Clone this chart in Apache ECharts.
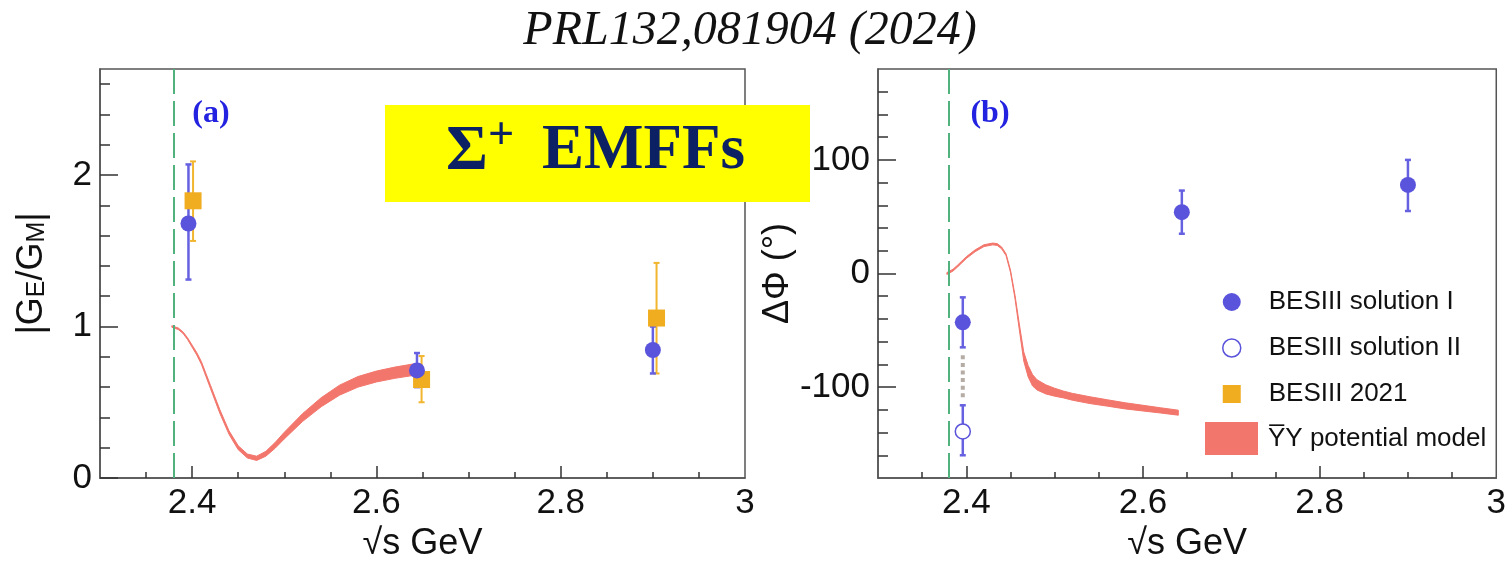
<!DOCTYPE html>
<html><head><meta charset="utf-8">
<script src="https://cdn.jsdelivr.net/npm/echarts@6/dist/echarts.min.js"></script>
<style>html,body{margin:0;padding:0;background:#fff}#c{width:1509px;height:570px}</style>
</head><body><div id="c"></div>
<script>
// ---------------- data ----------------
const xTickLabels = [2.4, 2.6, 2.8, 3];
const xMajorTicks = [2.4, 2.6, 2.8];
const xMinorTicks = [2.35, 2.45, 2.5, 2.55, 2.65, 2.7, 2.75, 2.85, 2.9, 2.95];
const yTickLabelsA = [0, 1, 2];
const yMinorTicksA = [0.2, 0.4, 0.6, 0.8, 1.2, 1.4, 1.6, 1.8, 2.2, 2.4, 2.6];
const yTickLabelsB = [-100, 0, 100];
const yMinorTicksB = [-160, -140, -120, -80, -60, -40, -20, 20, 40, 60, 80, 120, 140, 160];
const thresholdX = 2.3787;

// panel (a): |GE/GM|
const energySol = [2.396, 2.644, 2.900];
const ratioSol = [1.68, 0.71, 0.845];
const ratioSolLow = [1.31, 0.60, 0.69];
const ratioSolHigh = [2.07, 0.825, 1.00];

const energy2021 = [2.401, 2.649, 2.904];
const ratio2021 = [1.83, 0.65, 1.056];
const ratio2021Low = [1.565, 0.50, 0.69];
const ratio2021High = [2.09, 0.805, 1.42];

// panel (b): ΔΦ
const phaseSolI = [-43, 54, 78];
const phaseSolILow = [-65, 35, 55];
const phaseSolIHigh = [-21, 73, 100];
const energySolII = [2.396];
const phaseSolII = [-139];
const phaseSolIILow = [-160];
const phaseSolIIHigh = [-116];
const connectorPhase = [-72, -110];

// YbarY potential model bands
const modelEnergyA = [2.378, 2.385, 2.39, 2.395, 2.40, 2.405, 2.41, 2.415, 2.42, 2.43, 2.44, 2.45, 2.46, 2.47, 2.48, 2.49, 2.50, 2.52, 2.54, 2.56, 2.58, 2.60, 2.62, 2.64];
const modelRatioUpper = [1.005, 0.99, 0.965, 0.926, 0.877, 0.828, 0.769, 0.69, 0.611, 0.452, 0.312, 0.213, 0.158, 0.144, 0.176, 0.234, 0.302, 0.426, 0.53, 0.613, 0.67, 0.706, 0.732, 0.753];
const modelRatioLower = [0.995, 0.98, 0.955, 0.914, 0.863, 0.812, 0.751, 0.67, 0.589, 0.428, 0.288, 0.187, 0.132, 0.116, 0.144, 0.196, 0.258, 0.374, 0.47, 0.547, 0.60, 0.634, 0.658, 0.677];

const modelEnergyB = [2.378, 2.385, 2.39, 2.40, 2.41, 2.42, 2.43, 2.435, 2.44, 2.445, 2.45, 2.455, 2.46, 2.465, 2.47, 2.475, 2.48, 2.49, 2.50, 2.51, 2.52, 2.54, 2.56, 2.58, 2.60, 2.62, 2.64];
const modelPhaseUpper = [0.8, 3.8, 7.3, 14.8, 20.8, 25.3, 26.8, 26.3, 23.3, 17.3, 3, -18.5, -44.5, -69, -81, -89, -93.5, -98, -101, -103.5, -105.5, -108.5, -111.2, -113.8, -116, -118.2, -120.3];
const modelPhaseLower = [-0.8, 2.2, 5.7, 13.2, 19.2, 23.7, 25.2, 24.7, 21.7, 15.7, 1, -21.5, -49.5, -77, -91, -99, -102.5, -106, -108, -109.5, -111.5, -114.5, -116.8, -119.2, -121, -122.8, -124.7];

// ---------------- style ----------------
const C = {
  blue: '#5a53db', blueErr: '#6661e0', orange: '#efad1f', orangeErr: '#f1b52e',
  band: '#f3766c', green: '#52b27e', frame: '#555', tick: '#333', text: '#111',
  dotted: '#b5ada5', panelLabel: '#2222e0', navy: '#0c2064', yellow: '#ffff00'
};
const SANS = '"Liberation Sans", Arial, Helvetica, sans-serif';
const SERIF = '"Liberation Serif", "Times New Roman", serif';
const bandName = 'Y\u0305Y potential model';

function fmt(v) { return String(Math.round(v * 10) / 10); }

function xAxes(grid, name) {
  return [
    {
      gridIndex: grid, type: 'value', min: 2.3, max: 3.0, position: 'bottom',
      axisLine: { show: true, onZero: false, lineStyle: { color: C.frame, width: 1.5 } },
      axisTick: { show: true, inside: true, length: 12, customValues: xMajorTicks, lineStyle: { color: C.tick, width: 1.5 } },
      axisLabel: { show: true, customValues: xTickLabels, formatter: fmt, margin: 8, fontSize: 35, color: C.text, fontFamily: SANS },
      splitLine: { show: false },
      name: name, nameLocation: 'middle', nameGap: 47,
      nameTextStyle: { fontSize: 36, color: C.text, fontFamily: SANS }
    },
    {
      gridIndex: grid, type: 'value', min: 2.3, max: 3.0, position: 'bottom',
      axisLine: { show: false, onZero: false },
      axisTick: { show: true, inside: true, length: 6, customValues: xMinorTicks, lineStyle: { color: C.tick, width: 1.5 } },
      axisLabel: { show: false }, splitLine: { show: false }
    }
  ];
}
function yAxes(grid, min, max, labels, minor, name, nameGap, rich) {
  return [
    {
      gridIndex: grid, type: 'value', min: min, max: max, position: 'left',
      axisLine: { show: true, onZero: false, lineStyle: { color: C.frame, width: 1.5 } },
      axisTick: { show: true, inside: true, length: 18, customValues: labels, lineStyle: { color: C.tick, width: 1.5 } },
      axisLabel: { show: true, customValues: labels, margin: 8, fontSize: 35, color: C.text, fontFamily: SANS },
      splitLine: { show: false },
      name: name, nameLocation: 'middle', nameGap: nameGap, nameRotate: 90,
      nameTextStyle: { fontSize: 36, color: C.text, fontFamily: SANS, rich: rich }
    },
    {
      gridIndex: grid, type: 'value', min: min, max: max, position: 'left',
      axisLine: { show: false, onZero: false },
      axisTick: { show: true, inside: true, length: 10, customValues: minor, lineStyle: { color: C.tick, width: 1.5 } },
      axisLabel: { show: false }, splitLine: { show: false }
    }
  ];
}

function bandSeries(xi, yi, xs, lo, hi) {
  return {
    type: 'custom', name: bandName, xAxisIndex: xi, yAxisIndex: yi, silent: true,
    itemStyle: { color: C.band },
    data: xs.map((x, i) => [x, lo[i], hi[i]]),
    encode: { x: 0, y: [1, 2] },
    renderItem: function (params, api) {
      if (params.dataIndex !== 0) return null;
      const pts = [];
      for (let i = 0; i < xs.length; i++) pts.push(api.coord([xs[i], hi[i]]));
      for (let i = xs.length - 1; i >= 0; i--) pts.push(api.coord([xs[i], lo[i]]));
      return { type: 'polygon', shape: { points: pts, smooth: 0 }, style: { fill: C.band, stroke: C.band, lineWidth: 1 } };
    },
    z: 2
  };
}
function errSeries(xi, yi, xs, lo, hi, color, w) {
  return {
    type: 'custom', xAxisIndex: xi, yAxisIndex: yi, silent: true,
    data: xs.map((x, i) => [x, lo[i], hi[i]]),
    encode: { x: 0, y: [1, 2] },
    renderItem: function (params, api) {
      const x = api.value(0);
      const p1 = api.coord([x, api.value(1)]);
      const p2 = api.coord([x, api.value(2)]);
      const cap = 3;
      const st = { stroke: color, lineWidth: w };
      return {
        type: 'group', children: [
          { type: 'line', shape: { x1: p1[0], y1: p1[1], x2: p2[0], y2: p2[1] }, style: st },
          { type: 'line', shape: { x1: p1[0] - cap, y1: p1[1], x2: p1[0] + cap, y2: p1[1] }, style: st },
          { type: 'line', shape: { x1: p2[0] - cap, y1: p2[1], x2: p2[0] + cap, y2: p2[1] }, style: st }
        ]
      };
    },
    z: 4
  };
}
const thresholdMark = {
  silent: true, symbol: ['none', 'none'], label: { show: false },
  lineStyle: { color: C.green, width: 2, type: [25, 7] },
  data: [{ xAxis: thresholdX }]
};

const chart = echarts.init(document.getElementById('c'), null, { renderer: 'canvas' });
chart.setOption({
  animation: false,
  backgroundColor: '#fff',
  title: {
    text: 'PRL132,081904 (2024)', left: 745, top: 2, textAlign: 'center',
    textStyle: { fontFamily: SERIF, fontStyle: 'italic', fontWeight: 'normal', fontSize: 48, color: C.text }
  },
  grid: [
    { left: 100, top: 69, width: 645, height: 409, show: true, borderColor: C.frame, borderWidth: 1.5 },
    { left: 878, top: 69, width: 620, height: 409, show: true, borderColor: C.frame, borderWidth: 1.5 }
  ],
  xAxis: [].concat(xAxes(0, '\u221As GeV'), xAxes(1, '\u221As GeV')),
  yAxis: [].concat(
    yAxes(0, 0, 2.7, yTickLabelsA, yMinorTicksA, '|G{sub|E}/G{sub|M}|', 50,
      { sub: { fontSize: 25, fontFamily: SANS, color: C.text, lineHeight: 20, verticalAlign: 'bottom' } }),
    yAxes(1, -180, 180, yTickLabelsB, yMinorTicksB, '\u0394\u03A6 (\u00B0)', 71, undefined)
  ),
  legend: [
    {
      orient: 'vertical', left: 1222, top: 287, padding: 0, itemWidth: 18, itemHeight: 18, itemGap: 16,
      selectedMode: false,
      textStyle: { fontSize: 26, lineHeight: 30, fontFamily: SANS, color: C.text, padding: [0, 0, 0, 23] },
      data: [
        { name: 'BESIII solution I', icon: 'circle', itemStyle: { color: C.blue, borderWidth: 0 } },
        { name: 'BESIII solution II', icon: 'circle', itemStyle: { color: '#fff', borderColor: C.blue, borderWidth: 1.5 } },
        { name: 'BESIII 2021', icon: 'rect', itemStyle: { color: C.orange, borderWidth: 0 } }
      ]
    },
    {
      orient: 'vertical', left: 1205, top: 422, padding: 0, itemWidth: 53, itemHeight: 33,
      selectedMode: false,
      textStyle: { fontSize: 26, lineHeight: 30, fontFamily: SANS, color: C.text, padding: [0, 0, 0, 5] },
      data: [{ name: bandName, icon: 'rect', itemStyle: { color: C.band, borderWidth: 0 } }]
    }
  ],
  series: [
    // panel (a)
    bandSeries(0, 0, modelEnergyA, modelRatioLower, modelRatioUpper),
    errSeries(0, 0, energy2021, ratio2021Low, ratio2021High, C.orangeErr, 2),
    {
      type: 'scatter', name: 'BESIII 2021', xAxisIndex: 0, yAxisIndex: 0, symbol: 'rect', symbolSize: 17,
      itemStyle: { color: C.orange, opacity: 1 }, data: energy2021.map((x, i) => [x, ratio2021[i]]), z: 5
    },
    errSeries(0, 0, energySol, ratioSolLow, ratioSolHigh, C.blueErr, 2.5),
    {
      type: 'scatter', name: 'BESIII solution I', xAxisIndex: 0, yAxisIndex: 0, symbol: 'circle', symbolSize: 16,
      itemStyle: { color: C.blue, opacity: 1 }, data: energySol.map((x, i) => [x, ratioSol[i]]), z: 6,
      markLine: thresholdMark
    },
    // panel (b)
    bandSeries(2, 2, modelEnergyB, modelPhaseLower, modelPhaseUpper),
    {
      type: 'line', xAxisIndex: 2, yAxisIndex: 2, symbol: 'none', silent: true,
      data: connectorPhase.map(v => [energySolII[0], v]),
      lineStyle: { color: C.dotted, width: 4, type: [4, 3.6], cap: 'butt' }, z: 3
    },
    errSeries(2, 2, energySol, phaseSolILow, phaseSolIHigh, C.blueErr, 2.5),
    errSeries(2, 2, energySolII, phaseSolIILow, phaseSolIIHigh, C.blueErr, 2.5),
    {
      type: 'scatter', name: 'BESIII solution I', xAxisIndex: 2, yAxisIndex: 2, symbol: 'circle', symbolSize: 16,
      itemStyle: { color: C.blue, opacity: 1 }, data: energySol.map((x, i) => [x, phaseSolI[i]]), z: 6,
      markLine: thresholdMark
    },
    {
      type: 'scatter', name: 'BESIII solution II', xAxisIndex: 2, yAxisIndex: 2, symbol: 'circle', symbolSize: 15,
      itemStyle: { color: '#fff', borderColor: C.blue, borderWidth: 1.5, opacity: 1 },
      data: energySolII.map((x, i) => [x, phaseSolII[i]]), z: 6
    }
  ],
  graphic: [
    { type: 'text', x: 211, y: 114, z: 100, style: { text: '(a)', align: 'center', verticalAlign: 'middle', font: 'bold 32px ' + SERIF, fill: C.panelLabel } },
    { type: 'text', x: 990, y: 114, z: 100, style: { text: '(b)', align: 'center', verticalAlign: 'middle', font: 'bold 32px ' + SERIF, fill: C.panelLabel } },
    { type: 'rect', x: 385, y: 105, z: 100, shape: { x: 0, y: 0, width: 425, height: 97 }, style: { fill: C.yellow } },
    { type: 'text', x: 446, y: 152, z: 101, style: { text: '\u03A3', align: 'left', verticalAlign: 'middle', font: 'bold 64px ' + SERIF, fill: C.navy } },
    { type: 'text', x: 488, y: 137, z: 101, style: { text: '+', align: 'left', verticalAlign: 'middle', font: 'bold 46px ' + SERIF, fill: C.navy } },
    { type: 'text', x: 542, y: 152, z: 101, style: { text: 'EMFFs', align: 'left', verticalAlign: 'middle', font: 'bold 63px ' + SERIF, fill: C.navy } }
  ]
});
</script>
</body></html>
